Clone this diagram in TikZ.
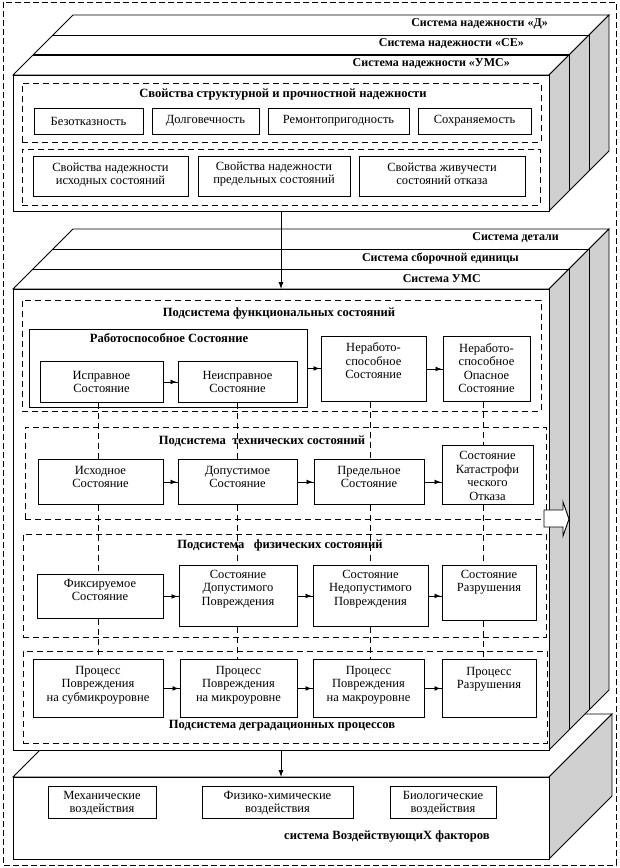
\documentclass[tikz,border=0pt]{standalone}
\usepackage{fontspec}
\setmainfont{Liberation Serif}
\usetikzlibrary{arrows.meta,decorations.markings}
\definecolor{sidegray}{RGB}{208,208,208}
\tikzset{
 outerdash/.style={draw, dash pattern=on 6pt off 3pt, line width=0.7pt},
 dbox/.style={draw, dash pattern=on 6pt off 4pt, line width=0.9pt, inner sep=0, anchor=north west},
 sbox/.style={draw, fill=white, line width=0.9pt, inner sep=0, anchor=north west},
 face/.style={draw, fill=white, line width=0.9pt},
 sideface/.style={draw, fill=sidegray, line width=0.9pt},
 txt/.style={align=center, font=\fontsize{12.5}{13.5}\selectfont, inner sep=0},
 ttl/.style={align=center, font=\bfseries\fontsize{12.6}{13.5}\selectfont, inner sep=0},
 hdr/.style={anchor=east, font=\bfseries\fontsize{12}{13}\selectfont, inner sep=0},
 vdash/.style={dash pattern=on 6pt off 4pt, line width=0.9pt},
 harr/.style={line width=0.9pt, postaction={decorate}, decoration={markings, mark=at position -1.5pt with {\arrow{Latex[length=6pt,width=5pt]}}}},
 varr/.style={line width=0.9pt, -{Latex[length=7pt,width=5pt]}},
}
\newcommand\bx[7]{%
 \node[sbox, minimum width={(#4-#2)*1pt}, minimum height={(#5-#3)*1pt}] (#1) at (#2,#3) {};
 \node[txt] (#1t) at ({(#2+#4)/2},#6) {#7};}
\newcommand\dbx[5]{\node[dbox, minimum width={(#4-#2)*1pt}, minimum height={(#5-#3)*1pt}] (#1) at (#2,#3) {};}
\begin{document}
\begin{tikzpicture}[x=1pt,y=-1pt]
\useasboundingbox (0,0) rectangle (619,868);
\draw[outerdash] (3,2) rectangle (616,865);
% ---------- block 3 (factors)
\draw[face] (13,777) -- (76,714) -- (612,714) -- (549,777) -- cycle;
\draw[sideface] (549,777) -- (612,714) -- (612,796) -- (549,859) -- cycle;
\node[sbox, minimum width=536pt, minimum height=82pt] (f3) at (13,777) {};
% ---------- block 2
\draw[face] (13,289) -- (73,229) -- (609,229) -- (549,289) -- cycle;
\draw[sideface] (549,289) -- (609,229) -- (609,690) -- (549,750) -- cycle;
\draw[line width=0.9pt] (53,249) -- (589,249) (33,269) -- (569,269) (569,269) -- (569,730) (589,249) -- (589,710);
\node[sbox, minimum width=536pt, minimum height=461pt] (f2) at (13,289) {};
% ---------- block 1
\draw[face] (13,75) -- (73,15) -- (609,15) -- (549,75) -- cycle;
\draw[sideface] (549,75) -- (609,15) -- (609,151) -- (549,211) -- cycle;
\draw[line width=0.9pt] (53,35) -- (589,35) (569,55) -- (569,191) (589,35) -- (589,171);
\draw[line width=2pt] (33,55) -- (569,55);
\node[sbox, minimum width=536pt, minimum height=136pt] (f1) at (13,75) {};
% headers
\node[hdr] (h1) at (548,24) {Система надежности «Д»};
\node[hdr] (h2) at (524,44) {Система надежности «СЕ»};
\node[hdr] (h3) at (510,64) {Система надежности «УМС»};
\node[hdr] (h4) at (559,238) {Система детали};
\node[hdr] (h5) at (519,258) {Система сборочной единицы};
\node[hdr] (h6) at (481,279) {Система УМС};
\node[ttl] (h7) at (387,836) {система ВоздействующиХ факторов};
% ---------- block 1 content
\dbx{d1}{22}{83}{541}{142}
\node[ttl] (d1t) at (283,95) {Свойства структурной и прочностной надежности};
\bx{b1}{34}{108}{143}{134}{121}{Безотказность}
\bx{b2}{152}{108}{259}{134}{121}{Долговечность}
\bx{b3}{268}{108}{409}{134}{121}{Ремонтопригодность}
\bx{b4}{418}{108}{531}{134}{121}{Сохраняемость}
\dbx{d2}{22}{149}{540}{205}
\bx{p1}{33}{156}{188}{196}{175}{Свойства надежности\\исходных состояний}
\bx{p2}{198}{156}{350}{196}{174}{Свойства надежности\\предельных состояний}
\bx{p3}{359}{156}{525}{196}{174}{Свойства живучести\\состояний отказа}
% ---------- functional
\dbx{df}{22}{300}{541}{411}
\node[ttl] (dft) at (279,313) {Подсистема функциональных состояний};
\node[sbox, minimum width=278pt, minimum height=78pt] (rab) at (29,329) {};
\node[ttl] (rabt) at (169,338) {Работоспособное Состояние};
\bx{isp}{40}{361}{163}{402}{382}{Исправное\\Состояние}
\bx{neisp}{178}{361}{297}{402}{382}{Неисправное\\Состояние}
\bx{nerab}{321}{336}{426}{401}{361}{Неработо-\\способное\\Состояние}
\bx{opas}{443}{336}{530}{401}{368}{Неработо-\\способное\\Опасное\\Состояние}
% ---------- technical
\dbx{dt}{25}{427}{546}{519}
\node[ttl] (dtt) at (262,441) {Подсистема~~технических состояний};
\bx{ish}{38}{459}{163}{504}{477}{Исходное\\Состояние}
\bx{dop}{178}{459}{297}{504}{477}{Допустимое\\Состояние}
\bx{pred}{314}{459}{424}{504}{477}{Предельное\\Состояние}
\bx{kat}{442}{445}{533}{504}{476}{Состояние\\Катастрофи\\ческого\\Отказа}
% ---------- physical
\dbx{dp}{23}{534}{546}{637}
\node[ttl] (dpt) at (280,545) {Подсистема~~~физических состояний};
\bx{fix}{37}{574}{163}{618}{590}{Фиксируемое\\Состояние}
\bx{dpov}{179}{565}{297}{626}{589}{Состояние\\Допустимого\\Повреждения}
\bx{npov}{313}{565}{428}{626}{589}{Состояние\\Недопустимого\\Повреждения}
\bx{razr}{442}{565}{536}{620}{582}{Состояние\\Разрушения}
% ---------- degradation
\dbx{dd}{23}{651}{547}{743}
\bx{sub}{33}{659}{163}{717}{685}{Процесс\\Повреждения\\на субмикроуровне}
\bx{mic}{180}{659}{297}{717}{685}{Процесс\\Повреждения\\на микроуровне}
\bx{mac}{313}{659}{424}{717}{685}{Процесс\\Повреждения\\на макроуровне}
\bx{prazr}{442}{659}{536}{717}{679}{Процесс\\Разрушения}
\node[ttl] (ddt) at (282,726) {Подсистема деградационных процессов};
% ---------- factors
\bx{mech}{48}{786}{156}{818}{803}{Механические\\воздействия}
\bx{fiz}{202}{786}{353}{818}{803}{Физико-химические\\воздействия}
\bx{bio}{390}{786}{496}{818}{803}{Биологические\\воздействия}
% ---------- vertical arrows
\coordinate (ax) at (281,0);
\draw[varr] (f1.south -| ax) -- (f2.north -| ax);
\draw[varr] (f2.south -| ax) -- (f3.north -| ax);
% ---------- horizontal arrows
\draw[harr] (isp.east) -- (neisp.west);
\draw[harr] (rab.east) -- (rab.east -| nerab.west);
\draw[harr] (nerab.east) -- (nerab.east -| opas.west);
\draw[harr] (ish.east) -- (dop.west);
\draw[harr] (dop.east) -- (pred.west);
\draw[harr] (pred.east) -- (pred.east -| kat.west);
\draw[harr] (fix.east) -- (fix.east -| dpov.west);
\draw[harr] (dpov.east) -- (dpov.east -| npov.west);
\draw[harr] (npov.east) -- (npov.east -| razr.west);
\draw[harr] (sub.east) -- (mic.west);
\draw[harr] (mic.east) -- (mac.west);
\draw[harr] (mac.east) -- (prazr.west);
% ---------- dashed column links
\coordinate (c1) at (98,0);
\coordinate (c2) at (237,0);
\coordinate (c3) at (370,0);
\coordinate (c4) at (483,0);
\draw[vdash] (isp.south -| c1) -- (ish.north -| c1) (ish.south -| c1) -- (fix.north -| c1) (fix.south -| c1) -- (sub.north -| c1);
\draw[vdash] (neisp.south -| c2) -- (dop.north -| c2) (dop.south -| c2) -- (dpov.north -| c2) (dpov.south -| c2) -- (mic.north -| c2);
\draw[vdash] (nerab.south -| c3) -- (pred.north -| c3) (pred.south -| c3) -- (npov.north -| c3) (npov.south -| c3) -- (mac.north -| c3);
\draw[vdash] (opas.south -| c4) -- (kat.north -| c4) (kat.south -| c4) -- (razr.north -| c4) (razr.south -| c4) -- (prazr.north -| c4);
% ---------- right block arrow
\draw[fill=white, line width=0.9pt] (544,510) -- (563,510) -- (563,502) -- (569,519) -- (563,536) -- (563,527) -- (544,527) -- cycle;
\end{tikzpicture}
\end{document}
